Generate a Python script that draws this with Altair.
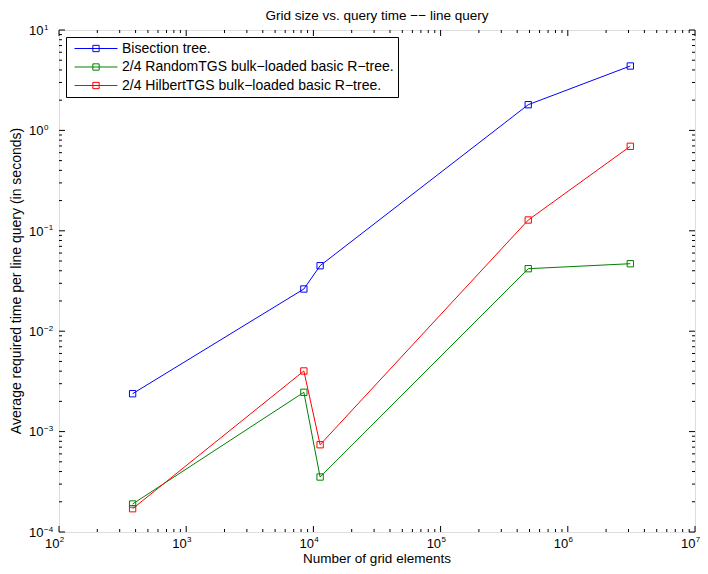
import altair as alt
import pandas as pd

# ---- data ----
grid_elements = [379, 8414, 11290, 488600, 3100000]
bisection = [0.002385, 0.02633, 0.0449, 1.803, 4.38]
random_tgs = [0.000190, 0.002463, 0.000353, 0.04194, 0.04701]
hilbert_tgs = [0.0001706, 0.004015, 0.000740, 0.1281, 0.6945]
series_names = [
    "Bisection tree.",
    "2/4 RandomTGS bulk\u2212loaded basic R\u2212tree.",
    "2/4 HilbertTGS bulk\u2212loaded basic R\u2212tree.",
]
series_colors = ["#0000ff", "#008000", "#ff0000"]
x_exponents = [2, 3, 4, 5, 6, 7]
y_exponents = [-4, -3, -2, -1, 0, 1]
minor_multipliers = [2, 3, 4, 5, 6, 7, 8, 9]

title_text = "Grid size vs. query time \u2212\u2212 line query"
x_title = "Number of grid elements"
y_title = "Average required time per line query (in seconds)"

FONT = "Liberation Sans"
W, H = 636, 502

rows = []
for name, vals in zip(series_names, [bisection, random_tgs, hilbert_tgs]):
    for xv, yv in zip(grid_elements, vals):
        rows.append({"n": xv, "t": yv, "series": name})
df = pd.DataFrame(rows)

def exp_label(e):
    return str(e).replace("-", "\u2212")

x_major = pd.DataFrame({"v": [10.0 ** e for e in x_exponents],
                        "base": ["10"] * len(x_exponents),
                        "exp": [exp_label(e) for e in x_exponents]})
y_major = pd.DataFrame({"v": [10.0 ** e for e in y_exponents],
                        "base": ["10"] * len(y_exponents),
                        "exp": [exp_label(e) for e in y_exponents]})
x_minor = pd.DataFrame({"v": [m * 10.0 ** e for e in x_exponents[:-1] for m in minor_multipliers]})
y_minor = pd.DataFrame({"v": [m * 10.0 ** e for e in y_exponents[:-1] for m in minor_multipliers]})
titles = pd.DataFrame({"title": [title_text], "xt": [x_title], "yt": [y_title]})

xscale = alt.Scale(type="log", domain=[100, 1e7], nice=False)
yscale = alt.Scale(type="log", domain=[1e-4, 10], nice=False)

def X(field="n"):
    return alt.X(f"{field}:Q", scale=xscale, axis=None)

def Y(field="t"):
    return alt.Y(f"{field}:Q", scale=yscale, axis=None)

sym = "M-3.07,0H3.07M-0.45,-0.45H0.45V0.45H-0.45Z"
legend = alt.Legend(title=None, orient="top-left", offset=7, padding=4, rowPadding=3.5,
                    strokeColor="black", fillColor="white",
                    labelFont=FONT, labelFontSize=14, labelColor="black", labelLimit=500,
                    symbolType=sym, symbolSize=196, symbolStrokeWidth=1,
                    symbolFillColor="transparent", symbolOffset=18.5, labelOffset=18.5)

color = alt.Color("series:N", scale=alt.Scale(domain=series_names, range=series_colors),
                  legend=legend, sort=series_names)

lines = alt.Chart(df).mark_line(strokeWidth=1).encode(x=X(), y=Y(), color=color)
points = alt.Chart(df).mark_point(shape="square", filled=False, size=40, strokeWidth=1,
                                  opacity=1).encode(
    x=X(), y=Y(),
    color=alt.Color("series:N", scale=alt.Scale(domain=series_names, range=series_colors),
                    legend=None))

def rule(data, **enc):
    return alt.Chart(data).mark_rule(color="black", strokeWidth=1).encode(**enc)

ticks = [
    rule(x_major, x=X("v"), y=alt.value(H), y2=alt.value(H - 6)),
    rule(x_major, x=X("v"), y=alt.value(0), y2=alt.value(6)),
    rule(x_minor, x=X("v"), y=alt.value(H), y2=alt.value(H - 3)),
    rule(x_minor, x=X("v"), y=alt.value(0), y2=alt.value(3)),
    rule(y_major, y=Y("v"), x=alt.value(0), x2=alt.value(6)),
    rule(y_major, y=Y("v"), x=alt.value(W), x2=alt.value(W - 6)),
    rule(y_minor, y=Y("v"), x=alt.value(0), x2=alt.value(3)),
    rule(y_minor, y=Y("v"), x=alt.value(W), x2=alt.value(W - 3)),
]

x_base = alt.Chart(x_major).mark_text(font=FONT, fontSize=13, color="black", align="right",
                                      baseline="alphabetic", dx=0.5).encode(
    x=X("v"), y=alt.value(H + 16), text="base:N")
x_exp = alt.Chart(x_major).mark_text(font=FONT, fontSize=8, color="black", align="left",
                                     baseline="alphabetic", dx=0.8).encode(
    x=X("v"), y=alt.value(H + 10), text="exp:N")
y_base = alt.Chart(y_major).mark_text(font=FONT, fontSize=13, color="black", align="right",
                                      baseline="alphabetic", dy=4.7).encode(
    y=Y("v"), x=alt.value(-15.5), text="base:N")
y_exp = alt.Chart(y_major).mark_text(font=FONT, fontSize=8, color="black", align="left",
                                     baseline="alphabetic", dy=-0.5).encode(
    y=Y("v"), x=alt.value(-15), text="exp:N")

title_mark = alt.Chart(titles).mark_text(font=FONT, fontSize=13.5, color="black", align="center",
                                         baseline="alphabetic").encode(
    x=alt.value(W / 2), y=alt.value(-9.7), text="title:N")
xtitle_mark = alt.Chart(titles).mark_text(font=FONT, fontSize=13.5, color="black", align="center",
                                          baseline="alphabetic").encode(
    x=alt.value(W / 2), y=alt.value(H + 31.1), text="xt:N")
ytitle_mark = alt.Chart(titles).mark_text(font=FONT, fontSize=14, color="black", align="center",
                                          baseline="alphabetic", angle=270).encode(
    x=alt.value(-38), y=alt.value(H / 2), text="yt:N")

chart = alt.layer(lines, points, *ticks, x_base, x_exp, y_base, y_exp,
                  title_mark, xtitle_mark, ytitle_mark).properties(
    width=W, height=H,
    padding={"left": 51, "top": 22, "right": 5, "bottom": 34},
    autosize=alt.AutoSizeParams(type="none"),
).configure_view(stroke="black", strokeWidth=1).configure(background="white")

chart.save("out.html", embed_options={"renderer": "svg", "actions": False})
